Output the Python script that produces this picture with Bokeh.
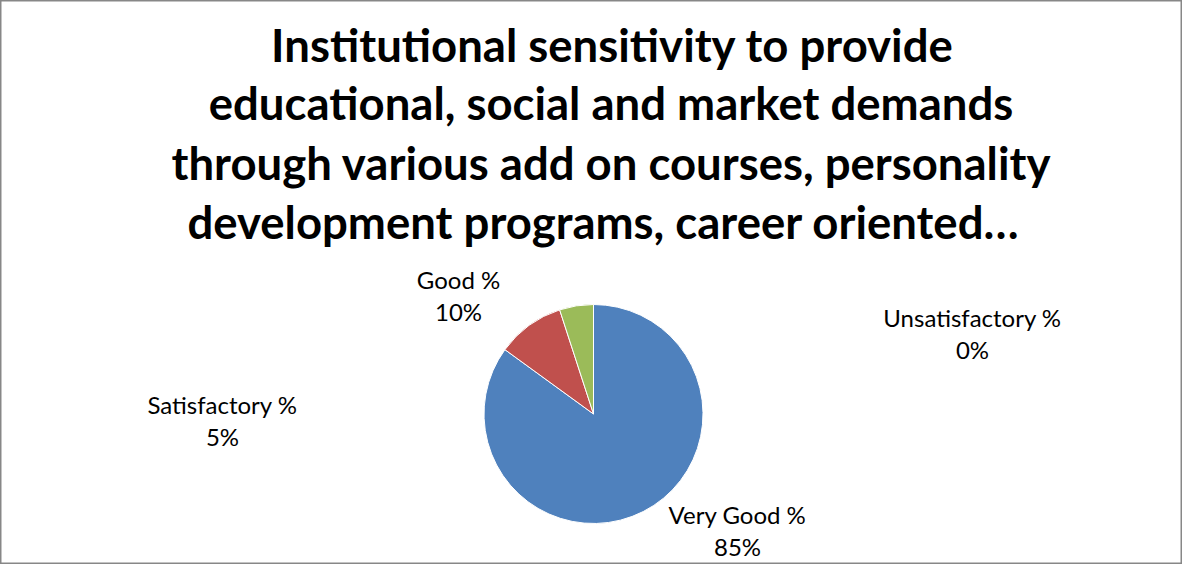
import numpy as np
from bokeh.plotting import figure
from bokeh.models import Range1d, ColumnDataSource
from bokeh.core.properties import value
from bokeh.embed import file_html
from bokeh.resources import INLINE

title_lines = [
    "Institutional sensitivity to provide",
    "educational, social and market demands",
    "through various add on courses, personality",
    "development programs, career oriented\u2026",
]
categories = ["Very Good %", "Good %", "Satisfactory %", "Unsatisfactory %"]
percent = [85, 10, 5, 0]
colors = ["#4F81BD", "#C0504D", "#9BBB59", "#8064A2"]

H = 580  # page height; data y = H - pixel row
p = figure(width=1182, height=564, output_backend="svg", toolbar_location=None,
           x_range=Range1d(8, 1190), y_range=Range1d(8, 572), min_border=0)
p.axis.visible = False
p.grid.visible = False
p.outline_line_color = "#878787"
p.outline_line_width = 2
p.background_fill_color = "white"
p.border_fill_color = "white"

vals = np.array(percent, dtype=float)
frac = vals / vals.sum()
cum = np.concatenate([[0], np.cumsum(frac)])
start = np.pi / 2 - 2 * np.pi * cum[:-1]
end = np.pi / 2 - 2 * np.pi * cum[1:]
keep = vals > 0
src = ColumnDataSource(dict(start=start[keep], end=end[keep],
                            color=[c for c, k in zip(colors, keep) if k]))
cx, cy, r = 601, H - 421.5, 109.5
p.wedge(x=cx, y=cy, radius=r, start_angle="start", end_angle="end",
        direction="clock", fill_color="color", line_color="white",
        line_width=1, source=src)

# title
title_x = [620, 618.5, 619, 611]
title_y = [H - 52, H - 110, H - 170, H - 229]
p.text(x=title_x, y=title_y, text=title_lines, text_align="center",
       text_baseline="middle", text_font=value("Lato"), text_font_style="bold",
       text_font_size="45.5px", text_color="black")

# data labels
label_pos = {
    "Very Good %": (745, 521.5),
    "Good %": (466, 286.5),
    "Satisfactory %": (230, 411.5),
    "Unsatisfactory %": (980, 324.5),
}
lx, ly, lt = [], [], []
for c, v in zip(categories, percent):
    x0, y0 = label_pos[c]
    lx += [x0, x0]
    ly += [H - y0, H - y0 - 32]
    lt += [c, f"{v}%"]
p.text(x=lx, y=ly, text=lt, text_align="center", text_baseline="middle",
       text_font=value("Lato"), text_font_size="24px", text_color="black")

open("out.html", "w").write(file_html(p, INLINE))
